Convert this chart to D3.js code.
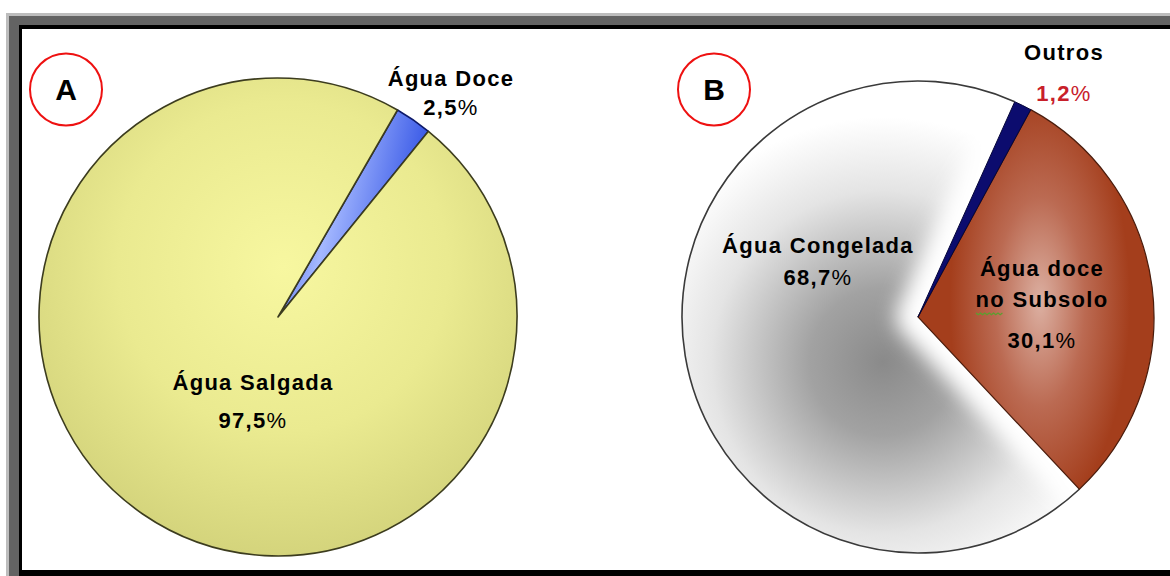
<!DOCTYPE html>
<html>
<head>
<meta charset="utf-8">
<script src="https://cdn.jsdelivr.net/npm/d3@7"></script>
<style>
  body { margin: 0; background: #fff; }
  text { font-family: "Liberation Sans", Arial, sans-serif; }
</style>
</head>
<body>
<div id="chart"></div>
<script>
// values
var pieALabels = ["Água Doce", "Água Salgada"];
var pieAValues = [2.5, 97.5];
var pieBLabels = ["Outros", "Água doce no Subsolo", "Água Congelada"];
var pieBValues = [1.2, 30.1, 68.7];
var pctA = ["2,5", "97,5"];
var pctB = ["1,2", "30,1", "68,7"];

(function() {
    var width = 1170,
        height = 576;

    var svg = d3.select("#chart")
        .append("svg")
        .attr("width", width)
        .attr("height", height);

    var defs = svg.append("defs");

    // frame round the picture
    svg.append("rect").attr("x", 6).attr("y", 13).attr("width", width).attr("height", height).attr("fill", "#bdbdbd");
    svg.append("rect").attr("x", 9).attr("y", 16).attr("width", width).attr("height", height).attr("fill", "#636363");
    svg.append("rect").attr("x", 19).attr("y", 25).attr("width", width).attr("height", height).attr("fill", "#000");
    svg.append("rect").attr("x", 22).attr("y", 29).attr("width", width).attr("height", 541).attr("fill", "#fff");

    var toRad = Math.PI / 180;

    // ---------- gradients (coords are relative to each pie centre) ----------
    var gA = defs.append("radialGradient").attr("id", "yellow")
        .attr("gradientUnits", "userSpaceOnUse")
        .attr("cx", 5).attr("cy", -50).attr("r", 300);
    gA.append("stop").attr("offset", 0).attr("stop-color", "#f7f7a0");
    gA.append("stop").attr("offset", 0.55).attr("stop-color", "#eaea90");
    gA.append("stop").attr("offset", 1).attr("stop-color", "#d2d27a");

    var gBlue = defs.append("linearGradient").attr("id", "blueA")
        .attr("x1", 0).attr("y1", 0).attr("x2", 1).attr("y2", 0.3);
    gBlue.append("stop").attr("offset", 0).attr("stop-color", "#2a48d8");
    gBlue.append("stop").attr("offset", 0.45).attr("stop-color", "#a4b8ff");
    gBlue.append("stop").attr("offset", 1).attr("stop-color", "#2f50e4");

    var gWhite = defs.append("radialGradient").attr("id", "greyB")
        .attr("gradientUnits", "userSpaceOnUse")
        .attr("cx", -35).attr("cy", 45).attr("r", 245);
    gWhite.append("stop").attr("offset", 0).attr("stop-color", "#8a8a8a");
    gWhite.append("stop").attr("offset", 0.3).attr("stop-color", "#a2a2a2");
    gWhite.append("stop").attr("offset", 0.7).attr("stop-color", "#e4e4e4");
    gWhite.append("stop").attr("offset", 1).attr("stop-color", "#ffffff");

    var gBrown = defs.append("radialGradient").attr("id", "brownB")
        .attr("gradientUnits", "userSpaceOnUse")
        .attr("cx", 122).attr("cy", -15).attr("r", 150)
        .attr("gradientTransform", "translate(122,-15) scale(0.6,1.4) translate(-122,15)");
    gBrown.append("stop").attr("offset", 0).attr("stop-color", "#dcb0a2");
    gBrown.append("stop").attr("offset", 0.5).attr("stop-color", "#bb6a52");
    gBrown.append("stop").attr("offset", 1).attr("stop-color", "#a43e1c");

    var blur = defs.append("filter").attr("id", "glow")
        .attr("x", "-50%").attr("y", "-50%").attr("width", "200%").attr("height", "200%");
    blur.append("feGaussianBlur").attr("stdDeviation", 10);

    // ---------- pie A ----------
    var rA = 239;
    var gPieA = svg.append("g").attr("transform", "translate(278,317)");

    var pieA = d3.pie().sort(null)
        .startAngle(30 * toRad).endAngle(30 * toRad + 2 * Math.PI);
    var arcA = d3.arc().innerRadius(0).outerRadius(rA);

    gPieA.selectAll("path.sliceA")
        .data(pieA(pieAValues))
        .enter().append("path")
        .attr("class", "sliceA")
        .attr("d", arcA)
        .attr("fill", function(d, i) { return i === 0 ? "url(#blueA)" : "url(#yellow)"; })
        .attr("stroke", function(d, i) { return i === 0 ? "#0e1a6a" : "#3c3c1e"; })
        .attr("stroke-width", 1.6)
        .attr("stroke-linejoin", "round");

    // ---------- pie B ----------
    var rB = 236;
    var cxB = 918, cyB = 317;
    var gPieB = svg.append("g").attr("transform", "translate(" + cxB + "," + cyB + ")");

    var pieB = d3.pie().sort(null)
        .startAngle(24.2 * toRad).endAngle(24.2 * toRad + 2 * Math.PI);
    var arcB = d3.arc().innerRadius(0).outerRadius(rB);
    var slicesB = pieB(pieBValues);

    // the grey slice first
    gPieB.append("clipPath").attr("id", "clipWhite")
        .append("path").attr("d", arcB(slicesB[2]));

    gPieB.append("path")
        .attr("d", arcB(slicesB[2]))
        .attr("fill", "url(#greyB)");

    // soft white halo that the grey fades into next to the brown slice
    var halo = arcB({ startAngle: slicesB[0].startAngle, endAngle: slicesB[1].endAngle });
    gPieB.append("g").attr("clip-path", "url(#clipWhite)")
        .append("path")
        .attr("d", halo)
        .attr("fill", "#fff")
        .attr("stroke", "#fff")
        .attr("stroke-width", 44)
        .attr("stroke-linejoin", "round")
        .attr("filter", "url(#glow)");

    gPieB.append("path")
        .attr("d", d3.arc().innerRadius(rB).outerRadius(rB)(slicesB[2]))
        .attr("fill", "none")
        .attr("stroke", "#3a3a3a")
        .attr("stroke-width", 1.6);

    gPieB.append("path")
        .attr("d", arcB(slicesB[1]))
        .attr("fill", "url(#brownB)")
        .attr("stroke", "#4a1c0c")
        .attr("stroke-width", 1.2);

    gPieB.append("path")
        .attr("d", arcB(slicesB[0]))
        .attr("fill", "#0c0c6e")
        .attr("stroke", "#06063a")
        .attr("stroke-width", 1);

    // ---------- labels ----------
    function label(x, y, lines, pct, pctColor) {
        var t = svg.append("text")
            .attr("text-anchor", "middle")
            .attr("font-size", 22)
            .attr("font-weight", "bold")
            .attr("letter-spacing", 1.3)
            .attr("fill", "#000");
        lines.forEach(function(l, i) {
            t.append("tspan").attr("x", x).attr("y", y + i * 31).text(l);
        });
        var p = svg.append("text")
            .attr("text-anchor", "middle")
            .attr("font-size", 22)
            .attr("letter-spacing", 1.3)
            .attr("x", x)
            .attr("y", pct.y)
            .attr("fill", pctColor || "#000");
        p.append("tspan").attr("font-weight", "bold").text(pct.v);
        p.append("tspan").attr("font-weight", "normal").text("%");
        return t;
    }

    label(451, 86, [pieALabels[0]], { v: pctA[0], y: 115 });
    label(253, 390, [pieALabels[1]], { v: pctA[1], y: 428 });
    label(1064, 60, [pieBLabels[0]], { v: pctB[0], y: 101 }, "#c8202a");
    label(818, 253, [pieBLabels[2]], { v: pctB[2], y: 285 });
    label(1042, 276, ["Água doce", "no Subsolo"], { v: pctB[1], y: 348 });

    // spell-check squiggle under "no"
    var sq = [];
    for (var k = 0; k <= 12; k++) {
        sq.push([976 + k * 2.2, 313 + (k % 2 ? 1.8 : 0)]);
    }
    svg.append("path")
        .attr("d", d3.line()(sq))
        .attr("fill", "none")
        .attr("stroke", "#5aa030")
        .attr("stroke-width", 1.2);

    // A / B markers
    [["A", 66, 89.5], ["B", 714, 89.5]].forEach(function(m) {
        svg.append("circle")
            .attr("cx", m[1]).attr("cy", m[2]).attr("r", 36)
            .attr("fill", "#fff")
            .attr("stroke", "#ee1111")
            .attr("stroke-width", 2);
        svg.append("text")
            .attr("x", m[1]).attr("y", m[2] + 10.5)
            .attr("text-anchor", "middle")
            .attr("font-size", 30)
            .attr("font-weight", "bold")
            .text(m[0]);
    });
})();
</script>
</body>
</html>
